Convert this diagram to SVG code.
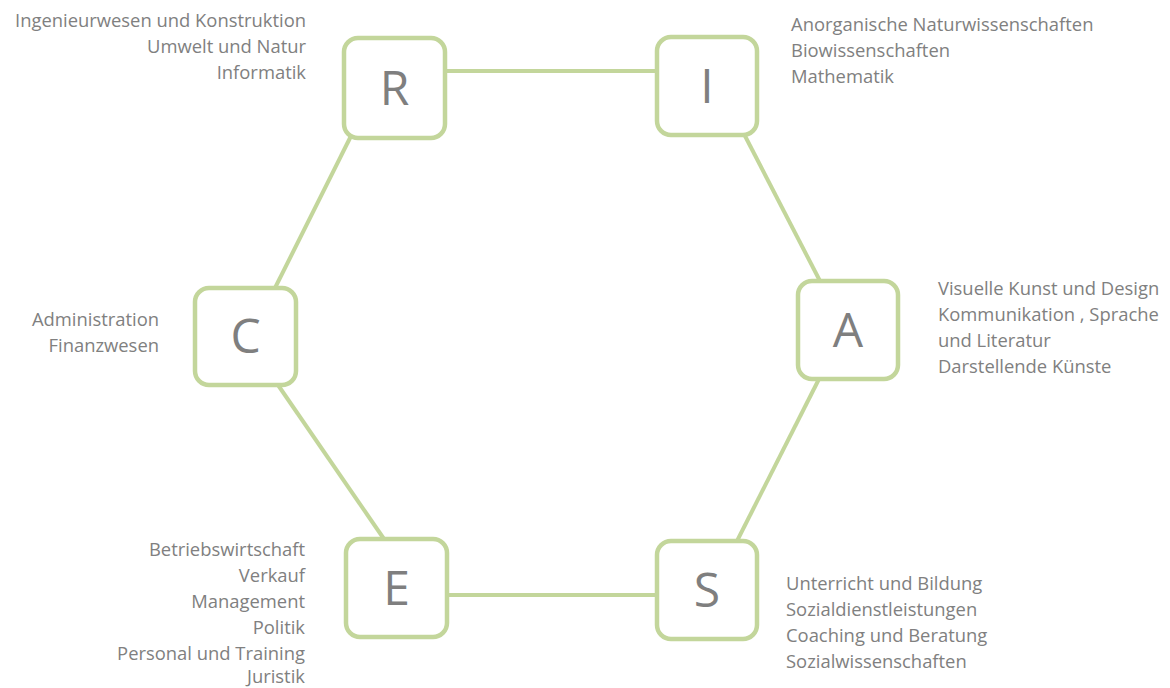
<svg xmlns="http://www.w3.org/2000/svg" width="1170" height="688" viewBox="0 0 1170 688">
<style>
.box{fill:#fff;stroke:#c3d69b;stroke-width:4.5}
.edge{stroke:#c3d69b;stroke-width:4;fill:none}
.L{font-family:"Open Sans","Liberation Sans",sans-serif;font-size:48px;fill:#7f7f7f;text-anchor:middle}
.t{font-family:"Open Sans","Liberation Sans",sans-serif;font-size:18.4px;fill:#808080}
.r{text-anchor:end}
</style>
<rect width="1170" height="688" fill="#fff"/>
<g id="connectors">
<line class="edge" x1="446" y1="71" x2="656" y2="71"/>
<line class="edge" x1="448" y1="595" x2="656" y2="595"/>
<line class="edge" x1="351" y1="136" x2="275" y2="288"/>
<line class="edge" x1="744" y1="134" x2="820" y2="281"/>
<line class="edge" x1="278" y1="385" x2="384" y2="539"/>
<line class="edge" x1="819" y1="379" x2="737" y2="541"/>
</g>
<g id="node-R"><rect class="box" x="344" y="38" width="101" height="100" rx="14"/><text class="L" x="394.5" y="105">R</text></g>
<g id="node-I"><rect class="box" x="657" y="37" width="100" height="98" rx="14"/><text class="L" x="707" y="103">I</text></g>
<g id="node-A"><rect class="box" x="798" y="281" width="100" height="98" rx="14"/><text class="L" x="848" y="347">A</text></g>
<g id="node-C"><rect class="box" x="195" y="288" width="101" height="97" rx="14"/><text class="L" x="245.5" y="353">C</text></g>
<g id="node-E"><rect class="box" x="346" y="539" width="101" height="98" rx="14"/><text class="L" x="396.5" y="605">E</text></g>
<g id="node-S"><rect class="box" x="657" y="541" width="100" height="98" rx="14"/><text class="L" x="707" y="607">S</text></g>
<g id="labels">
<text class="t r" x="306" y="27">Ingenieurwesen und Konstruktion</text>
<text class="t r" x="306" y="53">Umwelt und Natur</text>
<text class="t r" x="306" y="79">Informatik</text>
<text class="t" x="791" y="31">Anorganische Naturwissenschaften</text>
<text class="t" x="791" y="57">Biowissenschaften</text>
<text class="t" x="791" y="83">Mathematik</text>
<text class="t" x="938" y="295">Visuelle Kunst und Design</text>
<text class="t" x="938" y="321">Kommunikation , Sprache</text>
<text class="t" x="938" y="347">und Literatur</text>
<text class="t" x="938" y="373">Darstellende Künste</text>
<text class="t r" x="159" y="326">Administration</text>
<text class="t r" x="159" y="352">Finanzwesen</text>
<text class="t r" x="305" y="556">Betriebswirtschaft</text>
<text class="t r" x="305" y="582">Verkauf</text>
<text class="t r" x="305" y="608">Management</text>
<text class="t r" x="305" y="634">Politik</text>
<text class="t r" x="305" y="660">Personal und Training</text>
<text class="t r" x="305" y="683">Juristik</text>
<text class="t" x="786" y="590">Unterricht und Bildung</text>
<text class="t" x="786" y="616">Sozialdienstleistungen</text>
<text class="t" x="786" y="642">Coaching und Beratung</text>
<text class="t" x="786" y="668">Sozialwissenschaften</text>
</g>
</svg>
